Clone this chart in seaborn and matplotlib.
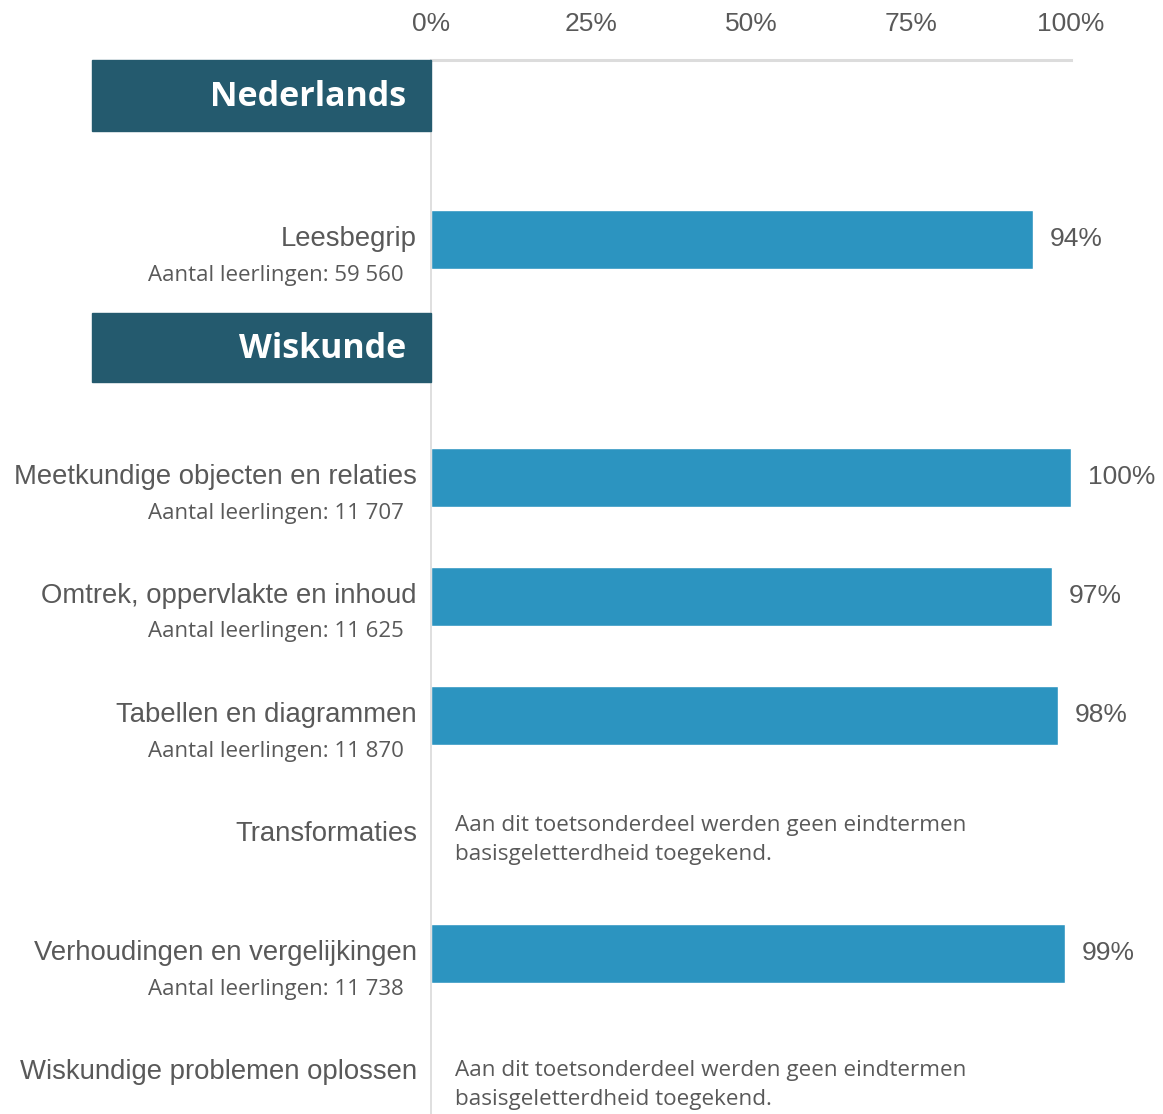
import matplotlib
matplotlib.use("Agg")
import matplotlib.pyplot as plt
from matplotlib.patches import Rectangle
import seaborn as sns
import pandas as pd

# ---- data ----
domains = ["Nederlands", "Wiskunde"]
subjects = ["Leesbegrip", "Meetkundige objecten en relaties", "Omtrek, oppervlakte en inhoud",
            "Tabellen en diagrammen", "Transformaties", "Verhoudingen en vergelijkingen",
            "Wiskundige problemen oplossen"]
subject_domain = ["Nederlands", "Wiskunde", "Wiskunde", "Wiskunde", "Wiskunde", "Wiskunde", "Wiskunde"]
percent = [94, 100, 97, 98, None, 99, None]
counts = ["59 560", "11 707", "11 625", "11 870", None, "11 738", None]
tick_values = [0, 25, 50, 75, 100]
tick_labels = ["0%", "25%", "50%", "75%", "100%"]
note_text = "Aan dit toetsonderdeel werden geen eindtermen\nbasisgeletterdheid toegekend."

# ---- layout (pixel-like vertical units) ----
row_pos = [239, 477, 596, 715, 834, 953, 1072]
note_shift = [0, 0, 0, 0, -19, 0, -12]
header_top = {"Nederlands": 60, "Wiskunde": 313}
header_h = {"Nederlands": 71, "Wiskunde": 69}

BAR = "#2c94c0"
HEAD = "#245a6e"
TXT = "#595959"

sns.set_theme(style="white")
plt.rcParams["font.family"] = ["Liberation Sans", "DejaVu Sans"]

fig = plt.figure(figsize=(11.63, 11.14), dpi=100)
W, H = 1163, 1114
x0, x1 = 431, 1071
ax = fig.add_axes([x0 / W, 0, (x1 - x0) / W, (H - 60) / H])
px = (x1 - x0) / 100.0  # pixels per percent

df = pd.DataFrame({"pos": row_pos, "value": percent, "subject": subjects})
df_bars = df.dropna(subset=["value"])
sns.barplot(data=df_bars, x="value", y="pos", orient="h", native_scale=True,
            width=59 / 119, color=BAR, saturation=1, ax=ax, errorbar=None)

ax.set_xlim(0, 100)
ax.set_ylim(H, 60)
ax.set_yticks([])
ax.set_xlabel("")
ax.set_ylabel("")
ax.xaxis.tick_top()
ax.set_xticks(tick_values)
ax.set_xticklabels(tick_labels)
ax.tick_params(axis="x", length=0, pad=17, labelsize=19, labelcolor=TXT)

for s in ["right", "bottom"]:
    ax.spines[s].set_visible(False)
ax.spines["top"].set_color("#dcdcdc")
ax.spines["top"].set_linewidth(2.2)
ax.spines["left"].set_color("#d9d9d9")
ax.spines["left"].set_linewidth(1.2)

# headers
for d in domains:
    left = (92 - x0) / px
    ax.add_patch(Rectangle((left, header_top[d]), -left, header_h[d], color=HEAD,
                           clip_on=False, zorder=3))
    ax.text((406 - x0) / px, header_top[d] + header_h[d] / 2 + 1, d, ha="right", va="center",
            color="white", fontsize=24.5, fontweight="bold", family=["Open Sans", "DejaVu Sans"],
            clip_on=False, zorder=4)

# labels
for y, name, val, cnt, ns in zip(row_pos, subjects, percent, counts, note_shift):
    ax.text((417 - x0) / px, y, name, ha="right", va="center", fontsize=19.8, color=TXT,
            clip_on=False)
    if cnt is not None:
        ax.text((404 - x0) / px, y + 36, f"Aantal leerlingen: {cnt}", ha="right", va="center",
                fontsize=16, color=TXT, family=["Open Sans", "DejaVu Sans"], clip_on=False)
    if val is not None:
        ax.text(val + 17 / px, y, f"{val:.0f}%", ha="left", va="center", fontsize=19,
                color=TXT, clip_on=False)
    else:
        ax.text((455 - x0) / px, y + ns, note_text, ha="left", va="top", fontsize=16.2,
                color=TXT, family=["Open Sans", "DejaVu Sans"], linespacing=1.52, clip_on=False)

fig.savefig("out.png", dpi=100)
